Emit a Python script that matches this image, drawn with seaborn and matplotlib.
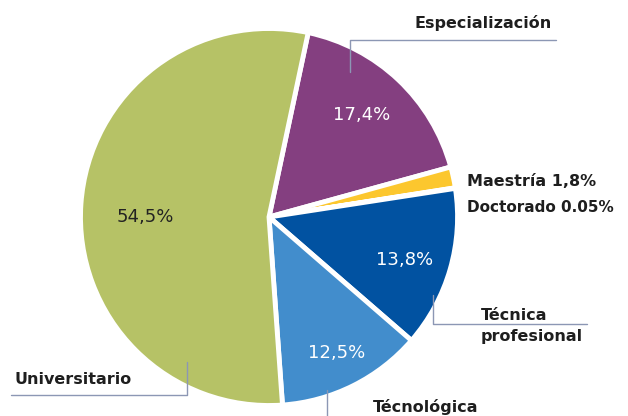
import matplotlib
matplotlib.use("Agg")
import matplotlib.pyplot as plt
import seaborn as sns

# ---- data ----
categories = ["Especialización", "Maestría", "Doctorado", "Técnica profesional", "Técnológica", "Universitario"]
values = [17.4, 1.8, 0.05, 13.8, 12.5, 54.5]
pct_labels = ["17,4%", "1,8%", "0.05%", "13,8%", "12,5%", "54,5%"]
colors = ["#843F80", "#FCC72E", "#9A9A9A", "#0152A1", "#428DCC", "#B6C266"]

sns.set_theme(style="white")
plt.rcParams['font.family'] = ['DejaVu Sans']

W, H = 628, 416
fig = plt.figure(figsize=(W / 100, H / 100), dpi=100)
ax = fig.add_axes([0, 0, 1, 1])

def Y(y):  # pixel-from-top to data y
    return H - y

cx, cy, R = 269, 217, 188.5
explode = [0.015, 0.065, 0.0, 0.05, 0.015, 0.0]
ax.pie(values, colors=colors, startangle=78, counterclock=False,
       center=(cx, Y(cy)), radius=R, explode=explode,
       wedgeprops=dict(edgecolor="white", linewidth=3.5))
ax.set_xlim(0, W)
ax.set_ylim(0, H)
ax.set_aspect("equal")
ax.axis("off")

# percentage labels inside wedges
ax.text(362, Y(115), pct_labels[0], color="white", fontsize=13, ha="center", va="center")
ax.text(405, Y(260), pct_labels[3], color="white", fontsize=13, ha="center", va="center")
ax.text(337, Y(353), pct_labels[4], color="white", fontsize=13, ha="center", va="center")
ax.text(145, Y(217), pct_labels[5], color="#222222", fontsize=13, ha="center", va="center")

lc = "#8C97B4"
lw = 1.0
bold = dict(fontsize=11.5, fontweight="bold", color="#1e1e1e")

# Especialización
ax.plot([350, 350, 556], [Y(72), Y(40), Y(40)], color=lc, lw=lw)
ax.text(415, Y(23), categories[0], ha="left", va="center", **bold)

# Maestría / Doctorado
ax.text(467, Y(182), f"{categories[1]} {pct_labels[1]}", ha="left", va="center", **bold)
ax.text(467, Y(208), f"{categories[2]} {pct_labels[2]}", ha="left", va="center",
        fontsize=11, fontweight="bold", color="#1e1e1e")

# Técnica profesional
w1, w2 = categories[3].split(" ")
ax.plot([433, 433, 587], [Y(295), Y(324), Y(324)], color=lc, lw=lw)
ax.text(481, Y(315), w1, ha="left", va="center", **bold)
ax.text(481, Y(337), w2, ha="left", va="center", **bold)

# Técnológica
ax.plot([327, 327], [Y(390), Y(416)], color=lc, lw=lw)
ax.text(373, Y(407), categories[4], ha="left", va="center", **bold)

# Universitario
ax.plot([187, 187, 11], [Y(362), Y(395), Y(395)], color=lc, lw=lw)
ax.text(15, Y(380), categories[5], ha="left", va="center", **bold)

fig.savefig("out.png", dpi=100)
